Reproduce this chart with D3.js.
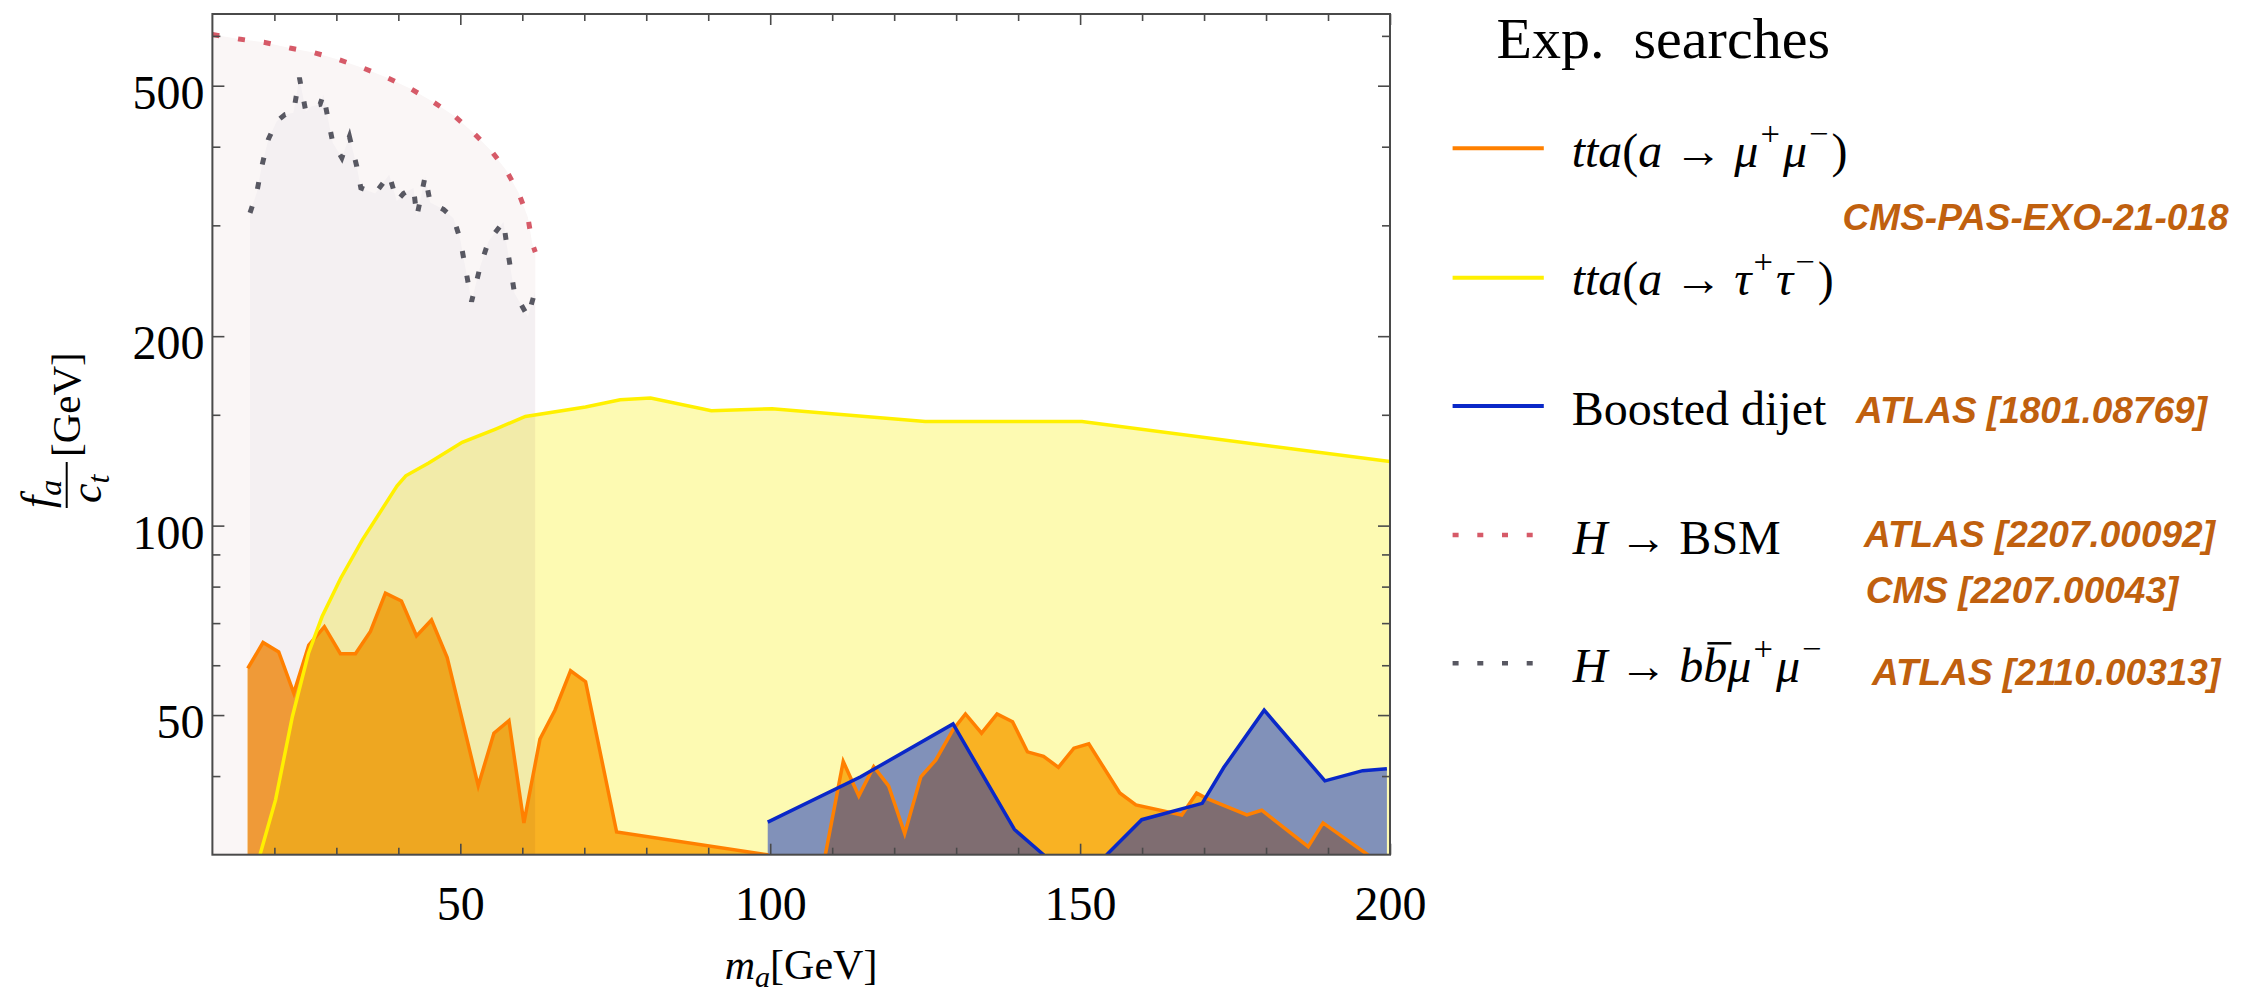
<!DOCTYPE html>
<html>
<head>
<meta charset="utf-8">
<script src="https://cdn.jsdelivr.net/npm/d3@7"></script>
<style>
  html, body { margin: 0; padding: 0; background: #fff; }
  svg { display: block; }
</style>
</head>
<body>
<svg id="chart" width="2241" height="999"></svg>
<script>
// values: m_a [GeV] and f_a/c_t [GeV]
const hBsmMass = [10, 14.3, 18.3, 22.5, 26.5, 30.4, 34.4, 38.2, 41.9, 45.5, 49, 52.1, 54.9, 57.4, 59.4, 60.9, 61.6, 62.1];
const hBsmFa = [603, 593, 586, 574, 564, 550, 533, 515, 495, 472, 448, 421, 395, 367, 338, 309, 281, 272];

const bbmmMass = [16.07, 17.15, 17.96, 19.03, 20.38, 21.72, 23.07, 24.04, 25.07, 26.03, 27.37, 27.91, 28.56, 29.42, 30.88, 32.11, 33.3, 33.95, 36.26, 38.52, 39.76, 40.83, 42.44, 42.99, 44.33, 45.14, 47.28, 48.9, 49.98, 51.81, 53.21, 54.55, 56.97, 57.52, 58.75, 60.91, 62.03];
const bbmmFa = [314, 338, 372, 411, 439, 450, 453, 515, 455, 464, 467, 484, 448, 406, 384, 415, 372, 344, 337, 361, 328, 337, 344, 310, 359, 326, 318, 308, 285, 227, 258, 283, 304, 278, 234, 215, 235];

const muMass = [15.7, 18.17, 20.7, 23.13, 25.55, 28.07, 30.65, 33.08, 35.5, 37.92, 40.5, 42.93, 45.35, 47.88, 52.89, 55.42, 57.84, 60.26, 62.85, 65.27, 67.79, 70.21, 75.22, 99.5, 104, 108.9, 111.78, 114.3, 116.7, 119.1, 121.7, 124.3, 126.7, 129.5, 131.5, 134.1, 136.6, 139.1, 141.5, 144.1, 146.5, 149, 151.4, 156.4, 159, 166.4, 168.8, 170.3, 176.9, 179.3, 186.8, 189.2, 196.4, 200];
const muFa = [59.3, 65.2, 63, 54.2, 64.6, 69.1, 62.6, 62.6, 67.9, 78.1, 75.9, 66.8, 70.8, 61.7, 38.6, 46.8, 49, 33.7, 45.8, 50.9, 58.8, 56.5, 32.6, 30, 28, 30, 42.2, 37.2, 41.4, 38.6, 32.4, 39.9, 42.4, 47.4, 50.2, 46.8, 50.2, 48.8, 43.7, 43, 41.3, 44.3, 45, 37.6, 36, 34.7, 37.6, 36.9, 34.7, 35.3, 30.9, 33.7, 30, 28];

const tauMass = [17.6, 20.2, 22.9, 25.5, 27.7, 30.7, 34.2, 39.8, 41.2, 44.9, 50.3, 55.7, 60.5, 70.2, 75.8, 80.7, 90.5, 100.3, 125, 150.3, 200];
const tauFa = [29.8, 36.7, 49.7, 62.7, 71.7, 82.5, 94.9, 115.7, 120, 125.7, 135.6, 142.4, 149.1, 154.3, 158.5, 159.5, 152.3, 153.4, 146.4, 146.4, 126.4];

const dijetMass = [99.6, 114.6, 129.5, 139.4, 144.1, 149, 154.3, 159.95, 169.7, 173.2, 179.7, 189.5, 195.6, 199.5];
const dijetFa = [33.8, 39.9, 48.4, 32.9, 30, 27, 30, 34.1, 36.2, 41.3, 50.9, 39.3, 40.8, 41.1];

const xMajorTicks = [50, 100, 150, 200];
const xMinorTicks = [20, 30, 40, 60, 70, 80, 90, 110, 120, 130, 140, 160, 170, 180, 190];
const yMajorTicks = [50, 100, 200, 500];
const yMinorTicks = [40, 60, 70, 80, 90, 150, 300, 400, 600];

const svg = d3.select('#chart');
const frameColor = '#4a4a4a';
const serif = 'Liberation Serif, serif';

const x = d3.scaleLinear().domain([10, 200]).range([212.4, 1390]);
const y = d3.scaleLog().domain([30, 650]).range([854.7, 14]);
const [x0, x1] = x.range();
const [yb, yt] = y.range();

const pts = (xs, ys) => xs.map((v, i) => [v, ys[i]]);
const redPts = pts(hBsmMass, hBsmFa);
const grayPts = pts(bbmmMass, bbmmFa);
const muPts = pts(muMass, muFa);
const tauPts = pts(tauMass, tauFa);
const dijetPts = pts(dijetMass, dijetFa);

const area = d3.area().x(d => x(d[0])).y0(yb).y1(d => y(d[1]));
const line = d3.line().x(d => x(d[0])).y(d => y(d[1]));

const defs = svg.append('defs');
defs.append('clipPath').attr('id', 'plotClip').append('rect')
  .attr('x', x0).attr('y', yt).attr('width', x1 - x0).attr('height', yb - yt);
// part of the plot that lies above the tau curve
const abovePts = [[10, 650], [10, tauFa[0]]].concat(tauPts, [[200, 650]]);
defs.append('clipPath').attr('id', 'aboveTau').append('path').attr('d', line(abovePts) + 'Z');

const plot = svg.append('g').attr('clip-path', 'url(#plotClip)');
plot.append('rect').attr('x', x0).attr('y', yt).attr('width', x1 - x0).attr('height', yb - yt).attr('fill', '#fff');

plot.append('path').attr('d', area(redPts)).attr('fill', '#faf6f6');
plot.append('path').attr('d', area(grayPts)).attr('fill', '#f4f0f2');
plot.append('path').attr('d', area(muPts)).attr('fill', '#fbb631').style('mix-blend-mode', 'multiply');
plot.append('path').attr('d', area(tauPts)).attr('fill', '#fdfab2').style('mix-blend-mode', 'multiply');
plot.append('path').attr('d', area(muPts)).attr('fill', '#ef9a38').attr('clip-path', 'url(#aboveTau)');
plot.append('path').attr('d', area(dijetPts)).attr('fill', 'rgb(5,40,192)').attr('fill-opacity', 0.5);

plot.append('path').attr('d', line(muPts)).attr('fill', 'none').attr('stroke', '#ff8000').attr('stroke-width', 3.5);
plot.append('path').attr('d', line(tauPts)).attr('fill', 'none').attr('stroke', '#fff000').attr('stroke-width', 3.5);
plot.append('path').attr('d', line(dijetPts)).attr('fill', 'none').attr('stroke', '#0a28c8').attr('stroke-width', 3.5);
plot.append('path').attr('d', line(redPts)).attr('fill', 'none').attr('stroke', '#d65a68')
  .attr('stroke-width', 5).attr('stroke-dasharray', '7,19');
plot.append('path').attr('d', line(grayPts)).attr('fill', 'none').attr('stroke', '#585862')
  .attr('stroke-width', 5).attr('stroke-dasharray', '7,18');

// frame and inward ticks on all sides
function axisLayer(axis, transform) {
  const g = svg.append('g').attr('transform', transform).call(axis);
  g.select('.domain').remove();
  g.selectAll('.tick line').attr('stroke', frameColor).attr('stroke-width', 1.6);
  g.attr('font-family', serif).attr('font-size', 48);
  g.selectAll('.tick text').attr('fill', '#000');
  return g;
}
axisLayer(d3.axisBottom(x).tickValues(xMajorTicks).tickSize(-11).tickPadding(31).tickFormat(d3.format('d')), `translate(0,${yb})`);
axisLayer(d3.axisBottom(x).tickValues(xMinorTicks).tickSize(-7).tickFormat(''), `translate(0,${yb})`);
axisLayer(d3.axisTop(x).tickValues(xMajorTicks).tickSize(-11).tickFormat(''), `translate(0,${yt})`);
axisLayer(d3.axisTop(x).tickValues(xMinorTicks).tickSize(-7).tickFormat(''), `translate(0,${yt})`);
const yl = axisLayer(d3.axisLeft(y).tickValues(yMajorTicks).tickSize(-12).tickPadding(8).tickFormat(d3.format('d')), `translate(${x0},0)`);
yl.selectAll('.tick text').attr('dy', '0.47em');
axisLayer(d3.axisLeft(y).tickValues(yMinorTicks).tickSize(-8).tickFormat(''), `translate(${x0},0)`);
axisLayer(d3.axisRight(y).tickValues(yMajorTicks).tickSize(-12).tickFormat(''), `translate(${x1},0)`);
axisLayer(d3.axisRight(y).tickValues(yMinorTicks).tickSize(-8).tickFormat(''), `translate(${x1},0)`);

svg.append('rect').attr('x', x0).attr('y', yt).attr('width', x1 - x0).attr('height', yb - yt)
  .attr('fill', 'none').attr('stroke', frameColor).attr('stroke-width', 2);

// small helper for italic / sub / superscript runs
function mathText(parent, px, py, segs, size, anchor) {
  const t = parent.append('text').attr('x', px).attr('y', py)
    .attr('font-family', serif).attr('font-size', size).attr('fill', '#000')
    .attr('text-anchor', anchor || 'start');
  let shift = 0;
  segs.forEach(s => {
    const target = s.sup ? -0.45 * size : s.sub ? 0.2 * size : 0;
    const ts = t.append('tspan').text(s.t).attr('dy', target - shift);
    if (s.dx) ts.attr('dx', s.dx);
    shift = target;
    if (s.sup || s.sub) ts.attr('font-size', size * 0.72);
    if (s.i) ts.attr('font-style', 'italic');
  });
  return t;
}

// axis titles
mathText(svg, 801, 979, [{t: 'm', i: true}, {t: 'a', i: true, sub: true}, {t: '[GeV]'}], 42, 'middle');
const yLab = svg.append('g').attr('transform', 'translate(66.7,435) rotate(-90)');
mathText(yLab, -73, -15, [{t: 'f', i: true}, {t: 'a', i: true, sub: true}], 44);
yLab.append('line').attr('x1', -73).attr('x2', -27).attr('y1', 0).attr('y2', 0)
  .attr('stroke', '#000').attr('stroke-width', 2);
mathText(yLab, -68, 34, [{t: 'c', i: true}, {t: 't', i: true, sub: true}], 44);
mathText(yLab, -22, 13, [{t: '[GeV]'}], 41);

// legend
svg.append('text').attr('x', 1496.6).attr('y', 58).attr('font-family', serif).attr('font-size', 58)
  .style('white-space', 'pre').text('Exp.  searches');

const legendLines = [
  {y: 148.3, color: '#ff8000', dash: null},
  {y: 277.7, color: '#fff000', dash: null},
  {y: 406, color: '#0a28c8', dash: null},
  {y: 535, color: '#d65a68', dash: '6,18.7'},
  {y: 663.3, color: '#585862', dash: '6,18.7'}
];
legendLines.forEach(d => {
  svg.append('line').attr('x1', 1452.6).attr('x2', d.dash ? 1533 : 1543.8)
    .attr('y1', d.y).attr('y2', d.y).attr('stroke', d.color).attr('stroke-width', d.dash ? 4.5 : 4)
    .attr('stroke-dasharray', d.dash);
});

const lsz = 48;
mathText(svg, 1571.7, 166.7, [{t: 'tta', i: true}, {t: '('}, {t: 'a', i: true}, {t: ' → '},
  {t: 'μ', i: true}, {t: '+', sup: true, dx: 2}, {t: 'μ', i: true, dx: 3}, {t: '−', sup: true, dx: 2}, {t: ')', dx: 3}], lsz);
mathText(svg, 1571.7, 295, [{t: 'tta', i: true}, {t: '('}, {t: 'a', i: true}, {t: ' → '},
  {t: 'τ', i: true}, {t: '+', sup: true, dx: 2}, {t: 'τ', i: true, dx: 3}, {t: '−', sup: true, dx: 2}, {t: ')', dx: 3}], lsz);
mathText(svg, 1571.7, 425, [{t: 'Boosted dijet'}], lsz);
mathText(svg, 1572.7, 554, [{t: 'H', i: true}, {t: ' → '}, {t: 'BSM'}], lsz);
const bb = mathText(svg, 1572.7, 681.7, [{t: 'H', i: true}, {t: ' → '}, {t: 'b', i: true}, {t: 'b', i: true},
  {t: 'μ', i: true}, {t: '+', sup: true, dx: 2}, {t: 'μ', i: true, dx: 3}, {t: '−', sup: true, dx: 2}], lsz);
// bar over the second b
const s5 = bb.node().getStartPositionOfChar(5), e5 = bb.node().getEndPositionOfChar(5);
svg.append('line').attr('x1', s5.x + 4).attr('x2', e5.x + 4).attr('y1', 681.7 - 0.8 * lsz).attr('y2', 681.7 - 0.8 * lsz)
  .attr('stroke', '#000').attr('stroke-width', 2.5);

const cites = [
  {x: 1842.6, y: 230, t: 'CMS-PAS-EXO-21-018'},
  {x: 1856, y: 423, t: 'ATLAS [1801.08769]'},
  {x: 1864, y: 546.7, t: 'ATLAS [2207.00092]'},
  {x: 1865.7, y: 603, t: 'CMS [2207.00043]'},
  {x: 1872, y: 685, t: 'ATLAS [2110.00313]'}
];
svg.selectAll('text.cite').data(cites).join('text').attr('class', 'cite')
  .attr('x', d => d.x).attr('y', d => d.y)
  .attr('font-family', 'Liberation Sans, Arial, sans-serif').attr('font-weight', 'bold')
  .attr('font-style', 'italic').attr('font-size', 37).attr('fill', '#c0600e')
  .text(d => d.t);
</script>
</body>
</html>
